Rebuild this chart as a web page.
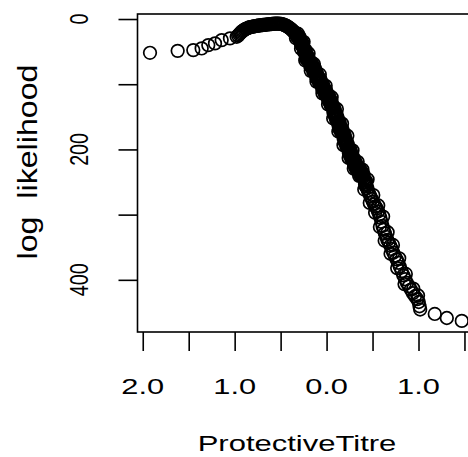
<!DOCTYPE html>
<html>
<head>
<meta charset="utf-8">
<script src="https://cdn.jsdelivr.net/npm/d3@7"></script>
<style>
  body { margin: 0; background: #fff; }
  text { font-family: 'Liberation Sans', Arial, sans-serif; fill: #000; }
</style>
</head>
<body>
<div id="chart"></div>
<script>
// protective titre (log scale) and log likelihood
let titre = [
  -1.921, -1.620, -1.450, -1.359, -1.287, -1.214, -1.141, -1.051, -0.978,
  -0.962, -0.951, -0.940, -0.928, -0.917, -0.905, -0.893, -0.881, -0.868, -0.856,
  -0.843, -0.830, -0.817, -0.803, -0.790, -0.776, -0.762, -0.748, -0.735, -0.721,
  -0.707, -0.694, -0.680, -0.666, -0.652, -0.638, -0.624, -0.610, -0.597, -0.583,
  -0.570, -0.556, -0.543, -0.530, -0.517, -0.504, -0.491, -0.478, -0.466, -0.454,
  -0.442, -0.431, -0.420, -0.409, -0.398, -0.388, -0.378, -0.368, -0.358, -0.349,
  -0.340, -0.331, -0.322, -0.314, -0.306, -0.298, -0.291, -0.284, -0.277, -0.270,
  -0.263, -0.257, -0.251, -0.245, -0.239, -0.233, -0.227, -0.221, -0.215, -0.208,
  -0.201, -0.194, -0.187, -0.180, -0.172, -0.164, -0.156, -0.148, -0.140, -0.132,
  -0.124, -0.116, -0.108, -0.100, -0.092, -0.084, -0.076, -0.068, -0.060, -0.052,
  -0.044, -0.036, -0.028, -0.020, -0.012, -0.004, 0.004, 0.012, 0.020, 0.028,
  0.036, 0.043, 0.050, 0.057, 0.064, 0.071, 0.078, 0.085, 0.092, 0.099,
  0.106, 0.113, 0.120, 0.127, 0.134, 0.141, 0.148, 0.155, 0.162, 0.169,
  0.176, 0.183, 0.190, 0.197, 0.204, 0.211, 0.218, 0.225, 0.232, 0.239,
  0.246, 0.253, 0.260, 0.267, 0.274, 0.281, 0.288, 0.295, 0.302, 0.309,
  0.316, 0.323, 0.330, 0.337, 0.344, 0.351, 0.358, 0.365, 0.372, 0.379,
  0.386, 0.393, 0.400, 0.407, 0.414, 0.421, 0.428, 0.435, 0.442,
  0.449, 0.462, 0.476, 0.490, 0.503, 0.517, 0.531, 0.545, 0.559, 0.573,
  0.585, 0.597, 0.609, 0.621, 0.634, 0.648, 0.662, 0.677, 0.693, 0.709,
  0.726, 0.743, 0.761, 0.779, 0.797, 0.816, 0.835, 0.855, 0.875, 0.896,
  0.917, 0.939, 0.962, 0.986, 1.003, 1.011, 1.018, 1.177, 1.308, 1.471,
  // scattered samples either side of the main band
  -0.312, -0.333, -0.250, -0.278, -0.196, -0.232, -0.138, -0.172, -0.074, -0.110,
  -0.010, -0.045, 0.055, 0.016, 0.112, 0.072, 0.168, 0.128, 0.226, 0.184,
  0.282, 0.240, 0.338, 0.296, 0.390, 0.354, 0.446, 0.410, 0.508, 0.470,
  0.562, 0.528, 0.615, 0.580, 0.664, 0.632, 0.722, 0.696, 0.790, 0.768,
  0.862, 0.848, 0.943, 0.995,
  // more samples packed inside the steep part
  -0.296, -0.268, -0.262, -0.236, -0.212, -0.222, -0.186, -0.160, -0.150, -0.122,
  -0.094, -0.098, -0.060, -0.030, -0.026, 0.004, 0.030, 0.028, 0.062, 0.090,
  0.088, 0.118, 0.146, 0.140, 0.176, 0.202, 0.198, 0.230, 0.262, 0.254,
  0.290, 0.318, 0.312, 0.346, 0.372, 0.368, 0.400, 0.428, 0.424,
  -0.320, -0.288, -0.280, -0.255, -0.244, -0.226, -0.218, -0.200, -0.178, -0.168,
  -0.146, -0.128, -0.112, -0.104, -0.080, -0.070, -0.048, -0.040, -0.016, -0.006,
  0.016, 0.024, 0.046, 0.054, 0.074, 0.082, 0.102, 0.110, 0.130, 0.138,
  0.158, 0.166, 0.186, 0.194, 0.214, 0.222, 0.242, 0.250, 0.270, 0.278,
  0.298, 0.306, 0.326, 0.334, 0.354, 0.362, 0.384, 0.392, 0.418, 0.432
]
let logLik = [
  51.8, 48.8, 47.7, 45.1, 40.0, 37.4, 32.3, 29.7, 27.2,
  25.5, 23.4, 21.8, 20.1, 18.6, 17.5, 16.2, 15.3, 14.6, 13.8,
  13.0, 12.6, 12.0, 11.6, 11.2, 10.9, 10.5, 10.2, 9.9, 9.7,
  9.4, 9.2, 9.0, 8.8, 8.5, 8.3, 8.0, 7.8, 7.6, 7.4,
  7.2, 7.1, 7.0, 7.0, 7.1, 7.3, 7.6, 8.1, 8.7, 9.4,
  10.2, 11.1, 12.1, 13.1, 14.2, 15.4, 16.6, 17.9, 19.3, 20.7,
  22.1, 23.6, 25.1, 26.8, 28.6, 30.5, 32.3, 34.2, 36.1, 38.0,
  40.0, 42.1, 44.3, 46.6, 49.0, 51.5, 54.0, 56.4, 58.7, 60.6,
  62.5, 64.3, 66.1, 68.0, 69.9, 71.8, 73.8, 75.8, 78.0, 80.0,
  82.0, 84.1, 86.2, 88.1, 90.3, 92.5, 94.6, 96.8, 99.0, 101.5,
  103.8, 106.0, 108.3, 110.4, 112.6, 114.9, 117.0, 119.1, 121.0, 122.8,
  124.6, 127.2, 129.6, 132.1, 134.6, 137.0, 139.5, 142.3, 145.2, 148.0,
  151.0, 154.0, 157.0, 159.3, 161.8, 164.2, 166.8, 169.0, 171.2, 173.3,
  175.4, 178.0, 180.8, 183.6, 186.4, 189.2, 192.0, 194.9, 197.8, 200.6,
  203.0, 205.1, 207.3, 209.6, 211.8, 214.0, 216.0, 218.0, 220.3, 222.4,
  224.6, 226.6, 228.0, 229.4, 230.6, 231.9, 233.2, 234.5, 235.8, 237.1,
  238.4, 240.0, 242.0, 244.8, 247.6, 250.5, 253.5, 256.4, 259.6,
  263.0, 267.0, 271.4, 275.8, 280.0, 283.8, 287.2, 290.6, 295.0, 299.8,
  304.8, 311.0, 317.4, 323.0, 328.6, 334.0, 338.8, 343.0, 347.8, 352.8,
  358.4, 363.4, 368.6, 373.8, 380.0, 386.6, 393.2, 399.0, 404.8, 410.0,
  415.0, 420.4, 425.2, 429.6, 434.0, 440.5, 445.5, 452.3, 458.5, 463.0,
  22.5, 29.5, 35.0, 45.5, 53.0, 63.5, 69.0, 79.5, 85.0, 96.0,
  102.5, 114.0, 120.0, 131.0, 138.0, 152.5, 160.5, 172.5, 179.0, 193.5,
  201.5, 213.0, 219.0, 229.5, 231.0, 240.5, 246.0, 261.5, 270.0, 282.0,
  286.0, 297.0, 303.0, 319.0, 327.0, 340.0, 346.5, 360.0, 367.0, 382.0,
  391.0, 406.5, 413.5, 424.0,
  27.0, 35.5, 42.5, 49.5, 56.0, 61.0, 64.0, 73.5, 70.5, 79.0,
  87.5, 93.0, 95.0, 105.0, 112.0, 113.0, 120.0, 127.0, 131.0, 140.0,
  148.5, 151.0, 161.0, 169.0, 171.0, 181.0, 189.0, 192.0, 201.0, 209.5,
  212.0, 220.0, 228.0, 227.0, 231.5, 240.0, 238.0, 248.0, 256.0,
  27.5, 31.0, 38.5, 38.5, 51.0, 48.0, 61.5, 58.0, 72.0, 66.0,
  80.5, 75.5, 90.0, 83.0, 98.0, 91.5, 107.0, 100.0, 116.0, 109.0,
  124.0, 117.5, 132.5, 126.0, 143.0, 136.0, 153.5, 147.0, 163.0, 157.0,
  173.5, 167.5, 183.5, 177.0, 195.0, 188.5, 205.0, 199.0, 214.5, 208.0,
  223.0, 217.0, 230.5, 225.5, 235.5, 230.0, 241.5, 236.0, 253.0, 250.0
]

let xTicks = [-2, -1.5, -1, -0.5, 0, 0.5, 1, 1.5]
let xTickLabels = ['2.0', '', '1.0', '', '0.0', '', '1.0', '']
let yTicks = [0, 100, 200, 300, 400]
let yTickLabels = ['0', '', '200', '', '400']

let width = 468
let height = 457
let plot = { left: 137.5, right: 474.3, top: 14, bottom: 332 }

let points = titre.map((t, i) => ({ titre: t, loglik: logLik[i] }))

let svg = d3
  .select('#chart')
  .append('svg')
  .attr('width', width)
  .attr('height', height)

let xPositionScale = d3
  .scaleLinear()
  .domain([-2.057, 1.607])
  .range([plot.left, plot.right])

let yPositionScale = d3
  .scaleLinear()
  .domain([-7.7, 480])
  .range([plot.top, plot.bottom])

// the points, open circles like pch = 1
svg
  .append('g')
  .selectAll('circle')
  .data(points)
  .enter()
  .append('circle')
  .attr('cx', d => xPositionScale(d.titre))
  .attr('cy', d => yPositionScale(d.loglik))
  .attr('r', 6.3)
  .attr('fill', 'none')
  .attr('stroke', '#000')
  .attr('stroke-width', 1.7)

// box round the plot region
svg
  .append('rect')
  .attr('x', plot.left)
  .attr('y', plot.top)
  .attr('width', plot.right - plot.left)
  .attr('height', plot.bottom - plot.top)
  .attr('fill', 'none')
  .attr('stroke', '#000')
  .attr('stroke-width', 1.6)

// axes, ticks only, labels drawn by hand below
let xAxis = d3
  .axisBottom(xPositionScale)
  .tickValues(xTicks)
  .tickSize(19)
  .tickSizeOuter(0)
  .tickFormat('')
svg
  .append('g')
  .attr('class', 'axis x-axis')
  .attr('transform', `translate(0,${plot.bottom})`)
  .call(xAxis)

let yAxis = d3
  .axisLeft(yPositionScale)
  .tickValues(yTicks)
  .tickSize(19)
  .tickSizeOuter(0)
  .tickFormat('')
svg
  .append('g')
  .attr('class', 'axis y-axis')
  .attr('transform', `translate(${plot.left},0)`)
  .call(yAxis)

svg.selectAll('.domain').remove()
svg
  .selectAll('.axis line')
  .attr('stroke', '#000')
  .attr('stroke-width', 1.6)

// x tick labels, the picture is stretched sideways
svg
  .append('g')
  .selectAll('text')
  .data(xTicks)
  .enter()
  .append('text')
  .attr('transform', d => `translate(${xPositionScale(d)},394) scale(1.4,1)`)
  .attr('text-anchor', 'middle')
  .attr('font-size', 22)
  .text((d, i) => xTickLabels[i])

// y tick labels, turned like R does
svg
  .append('g')
  .selectAll('text')
  .data(yTicks)
  .enter()
  .append('text')
  .attr('transform', d => `translate(88,${yPositionScale(d)}) rotate(-90) scale(0.77,1)`)
  .attr('text-anchor', 'middle')
  .attr('font-size', 25.6)
  .text((d, i) => yTickLabels[i])

// axis titles
svg
  .append('text')
  .attr('transform', 'translate(297,450.7) scale(1.41,1)')
  .attr('text-anchor', 'middle')
  .attr('font-size', 22)
  .text('ProtectiveTitre')

svg
  .append('text')
  .attr('transform', 'translate(36.7,162) rotate(-90) scale(1.15,1)')
  .attr('text-anchor', 'middle')
  .attr('font-size', 28)
  .style('white-space', 'pre')
  .text('log  likelihood')
</script>
</body>
</html>
